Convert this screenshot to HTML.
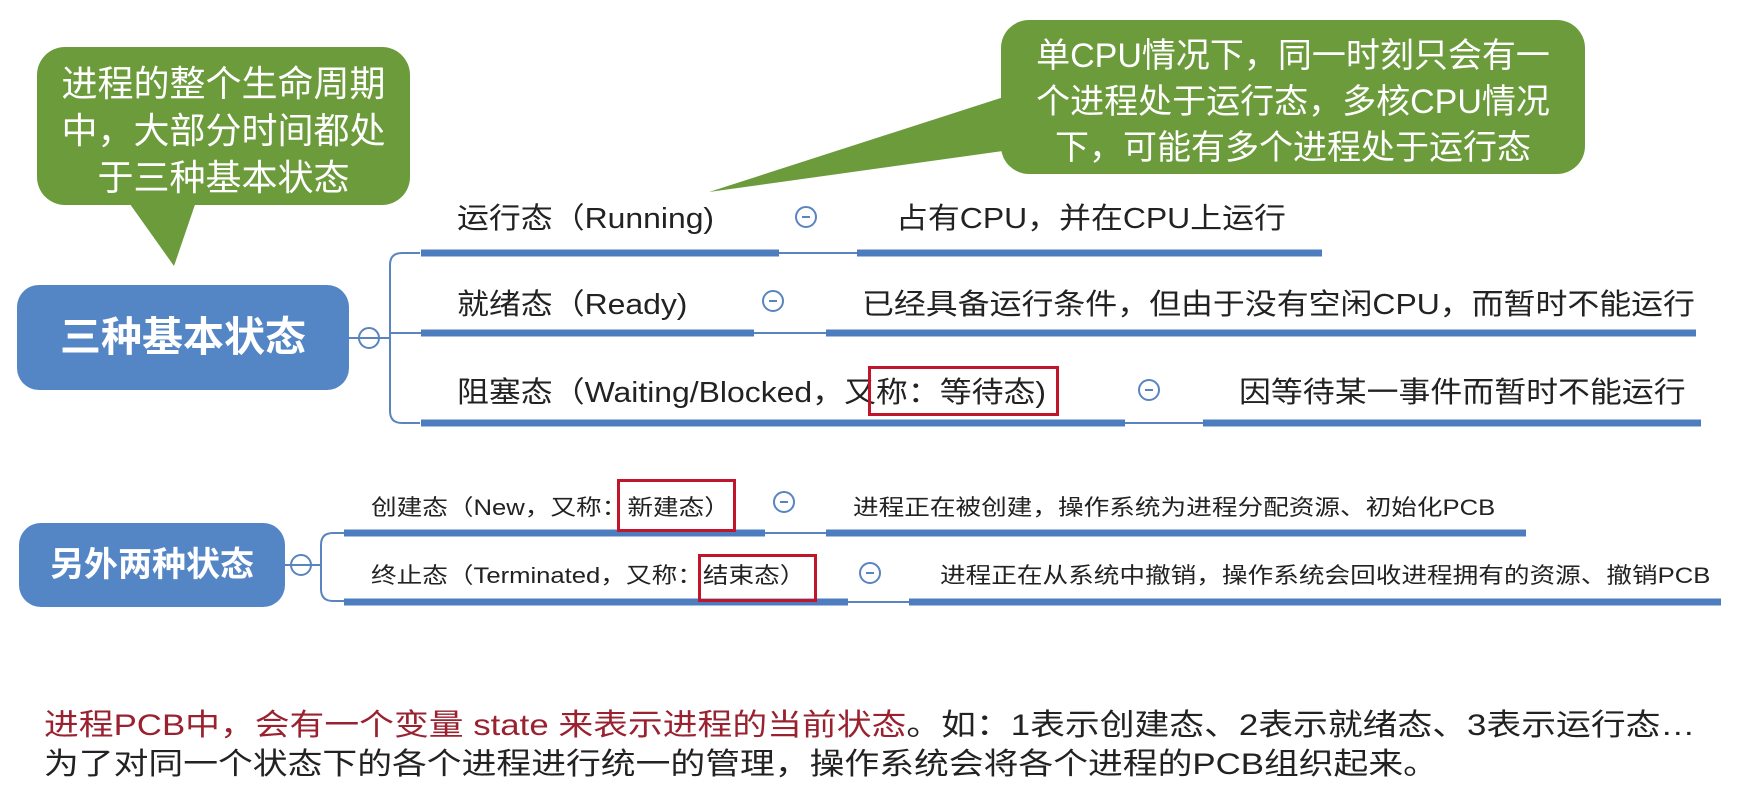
<!DOCTYPE html>
<html><head><meta charset="utf-8"><style>
body{margin:0;width:1738px;height:790px;background:#fff;position:relative;overflow:hidden;font-family:"Liberation Sans","Noto Sans CJK SC",sans-serif;}
.a{position:absolute;white-space:nowrap;transform-origin:left center;}
.t{font-size:29px;color:#222;line-height:36px;transform:scaleX(1.1);}
.s{font-size:22px;color:#222;line-height:28px;transform:scaleX(1.165);}
.rb{position:absolute;border:3px solid #c0152a;box-sizing:border-box;}
.c{position:absolute;width:22px;height:22px;border:2px solid #5a84c0;border-radius:50%;box-sizing:border-box;}
.c::after{content:"";position:absolute;left:5px;top:8px;width:8px;height:2px;background:#5a84c0;}
.g{position:absolute;background:#6c9b3c;border-radius:28px;color:#fff;text-align:center;}
.n{position:absolute;background:#5486c6;border-radius:22px;color:#fff;font-weight:bold;text-align:center;}
</style></head><body>
<svg class="a" style="left:0;top:0" width="1738" height="790">
<g fill="#6c9b3c">
<polygon points="120,190 200,190 174,266"/>
<polygon points="1010,95 1010,150 709,192"/>
</g>
<g stroke="#5a84c0" fill="none" stroke-width="2">
<path d="M420,253 H402 Q390,253 390,265 V411 Q390,423 402,423 H420"/>
<line x1="349" y1="338" x2="390" y2="338"/>
<line x1="390" y1="333" x2="421" y2="333"/>
<line x1="779" y1="253" x2="857" y2="253"/>
<line x1="754" y1="333" x2="826" y2="333"/>
<line x1="1125" y1="423" x2="1203" y2="423"/>
<path d="M344,533 H333 Q321,533 321,545 V589 Q321,601 333,601 H344"/>
<line x1="285" y1="565" x2="321" y2="565"/>
<line x1="765" y1="533" x2="826" y2="533"/>
<line x1="848" y1="602" x2="909" y2="602"/>
</g>
<g stroke="#4e7dbf" stroke-width="7">
<line x1="421" y1="253" x2="779" y2="253"/><line x1="857" y1="253" x2="1322" y2="253"/>
<line x1="421" y1="333" x2="754" y2="333"/><line x1="826" y1="333" x2="1696" y2="333"/>
<line x1="421" y1="423" x2="1125" y2="423"/><line x1="1203" y1="423" x2="1701" y2="423"/>
<line x1="344" y1="533" x2="765" y2="533"/><line x1="826" y1="533" x2="1526" y2="533"/>
<line x1="344" y1="602" x2="848" y2="602"/><line x1="909" y1="602" x2="1721" y2="602"/>
</g>
</svg>
<div class="g" style="left:37px;top:47px;width:373px;height:158px;padding-top:13px;box-sizing:border-box;font-size:36px;line-height:47px;">进程的整个生命周期<br>中，大部分时间都处<br>于三种基本状态</div>
<div class="g" style="left:1001px;top:20px;width:584px;height:154px;padding-top:13px;box-sizing:border-box;font-size:34px;line-height:46px;">单CPU情况下，同一时刻只会有一<br>个进程处于运行态，多核CPU情况<br>下，可能有多个进程处于运行态</div>
<div class="n" style="left:17px;top:285px;width:332px;height:105px;line-height:105px;font-size:41px;">三种基本状态</div>
<div class="n" style="left:19px;top:523px;width:266px;height:84px;line-height:84px;font-size:34px;">另外两种状态</div>
<div class="c" style="left:358px;top:327px;"></div>
<div class="c" style="left:290px;top:554px;"></div>
<div class="a t" style="left:457px;top:201px;">运行态（Running)</div>
<div class="c" style="left:795px;top:206px;"></div>
<div class="a t" style="left:896px;top:201px;">占有CPU，并在CPU上运行</div>
<div class="a t" style="left:457px;top:287px;">就绪态（Ready)</div>
<div class="c" style="left:762px;top:290px;"></div>
<div class="a t" style="left:862px;top:287px;">已经具备运行条件，但由于没有空闲CPU，而暂时不能运行</div>
<div class="a t" style="left:457px;top:375px;">阻塞态（Waiting/Blocked，又称：等待态)</div>
<div class="rb" style="left:868px;top:366px;width:191px;height:50px;"></div>
<div class="c" style="left:1138px;top:379px;"></div>
<div class="a t" style="left:1239px;top:375px;">因等待某一事件而暂时不能运行</div>
<div class="a s" style="left:371px;top:494px;">创建态（New，又称：新建态）</div>
<div class="rb" style="left:617px;top:479px;width:119px;height:53px;"></div>
<div class="c" style="left:773px;top:491px;"></div>
<div class="a s" style="left:853px;top:494px;">进程正在被创建，操作系统为进程分配资源、初始化PCB</div>
<div class="a s" style="left:371px;top:562px;">终止态（Terminated，又称：结束态）</div>
<div class="rb" style="left:698px;top:554px;width:119px;height:48px;"></div>
<div class="c" style="left:859px;top:562px;"></div>
<div class="a s" style="left:940px;top:562px;">进程正在从系统中撤销，操作系统会回收进程拥有的资源、撤销PCB</div>
<div class="a" style="left:44px;top:708px;font-size:30px;line-height:36px;color:#222;transform:scaleX(1.16);"><span style="color:#9a2230">进程PCB中，会有一个变量 state 来表示进程的当前状态</span>。如：1表示创建态、2表示就绪态、3表示运行态…</div>
<div class="a" style="left:44px;top:747px;font-size:30px;line-height:36px;color:#222;transform:scaleX(1.16);">为了对同一个状态下的各个进程进行统一的管理，操作系统会将各个进程的PCB组织起来。</div>
</body></html>
